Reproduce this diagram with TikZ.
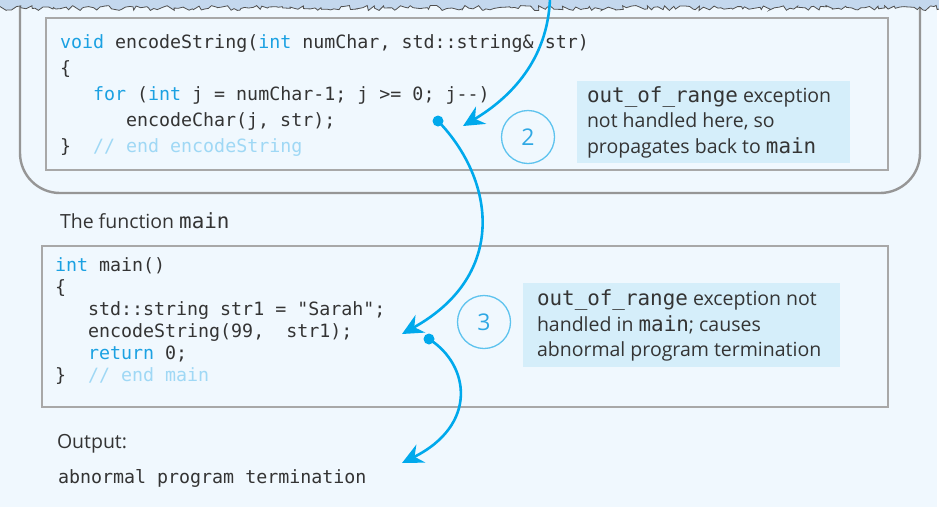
\documentclass[tikz,border=0pt]{standalone}
\usepackage{fontspec}
\setmainfont{Open Sans}
\setmonofont{DejaVu Sans Mono}
\usetikzlibrary{arrows.meta,decorations.pathmorphing}
\definecolor{cF0F8FE}{RGB}{240,248,254}
\definecolor{cC6DAEF}{RGB}{196,216,238}
\definecolor{c505050}{RGB}{80,80,80}
\definecolor{c9A9A9A}{RGB}{150,150,150}
\definecolor{cA8A8A8}{RGB}{168,168,168}
\definecolor{c383838}{RGB}{52,52,52}
\definecolor{c1BA1E2}{RGB}{27,161,226}
\definecolor{c9FD8F5}{RGB}{159,216,245}
\definecolor{c00A9EC}{RGB}{0,169,236}
\definecolor{cD5EEFA}{RGB}{213,238,250}
\definecolor{c5EC3EE}{RGB}{94,195,238}
\definecolor{c2FA8E4}{RGB}{47,168,228}
\newcommand{\kw}[1]{\textcolor{c1BA1E2}{#1}}
\newcommand{\cmt}[1]{\textcolor{c9FD8F5}{#1}}
\newcommand{\cw}[1]{{\fontsize{20.9}{24}\ttfamily #1}}

\begin{document}
\begin{tikzpicture}[y=1pt, x=1pt, yscale=-1, inner sep=0pt, outer sep=0pt,
  code/.style={anchor=base west, font=\fontsize{18.3}{22}\ttfamily, text=c383838},
  note/.style={anchor=base west, font=\fontsize{19.5}{24}\selectfont, text=c383838},
  codebox/.style={draw=cA8A8A8, line width=1.1pt},
  callout/.style={fill=cD5EEFA},
  badge/.style={circle, draw=c5EC3EE, line width=1.3pt, minimum size=53pt,
    text=c2FA8E4, font=\fontsize{23}{23}\selectfont},
  dot/.style={circle, fill=c00A9EC, minimum size=11pt},
  flow/.style={draw=c00A9EC, line width=2.6pt,
    -{Stealth[length=21pt,width=20pt,inset=7pt]}},
  torn/.style={decoration={random steps, segment length=3.5pt, amplitude=2.6pt}}]
  \useasboundingbox (0,0) rectangle (939,507);
  \fill[cF0F8FE] (0,0) rectangle (937,507);

  % outer frame and torn top edge
  \path[draw=c9A9A9A, line width=2.4pt, rounded corners=40pt]
    (20,-2) -- (20,193) -- (920,193) -- (920,-2);
  \pgfmathsetseed{4217}
  \path[fill=cC6DAEF, draw=c505050, line width=0.8pt]
    (-4,-4) -- (943,-4) -- (943,8) decorate[torn]{-- (-4,8)} -- cycle;

  % code boxes
  \path[codebox] (46,18) rectangle (888,170);
  \path[codebox] (42,246) rectangle (888,407);
  \path[callout] (577,81) rectangle (850,163);
  \path[callout] (523,283) rectangle (840,367);

  % encodeString
  \node[code] (s1) at (60,48) {\kw{void} encodeString(\kw{int} numChar, std::string\& str)};
  \node[code] (s2) at (60,74) {\{};
  \node[code] (s3) at (93,100) {\kw{for} (\kw{int} j = numChar-1; j >= 0; j-{}-)};
  \node[code] (s4) at (126,126) {encodeChar(j, str);};
  \node[code] (s5) at (60,152) {\}\ \ \cmt{// end encodeString}};

  \node[note] (c21) at (587,102) {\cw{out\_of\_range} exception};
  \node[note] (c22) at (587,127) {not handled here, so};
  \node[note] (c23) at (587,153) {propagates back to \cw{main}};

  \node[note] (title) at (60,228) {The function \cw{main}};

  % main
  \node[code] (m1) at (55,271) {\kw{int} main()};
  \node[code] (m2) at (55,293) {\{};
  \node[code] (m3) at (88,315) {std::string str1 = "Sarah";};
  \node[code] (m4) at (88,337) {encodeString(99,\ \ str1);};
  \node[code] (m5) at (88,359) {\kw{return} 0;};
  \node[code] (m6) at (55,381) {\}\ \ \cmt{// end main}};

  \node[note] (c31) at (537,305) {\cw{out\_of\_range} exception not};
  \node[note] (c32) at (537,331) {handled in \cw{main}; causes};
  \node[note] (c33) at (537,356) {abnormal program termination};

  \node[note] (out) at (57,448) {Output:};
  \node[code] (res) at (58,483) {abnormal program termination};

  % steps
  \node[badge] (n2) at (528,137) {2};
  \node[badge] (n3) at (484,322) {3};
  \node[dot] (d1) at (438,121) {};
  \node[dot] (d2) at (429,339) {};
  \coordinate (a0) at (550,-2);
  \coordinate (t1) at (463,126);
  \coordinate (t2) at (402,334);
  \coordinate (t3) at (402,463);
  \draw[flow] (a0) .. controls (548,60) and (510,98) .. (t1);
  \draw[flow] (d1.center) .. controls (495,180) and (508,275) .. (t2);
  \draw[flow] (d2.center) .. controls (470,365) and (478,425) .. (t3);
\end{tikzpicture}
\end{document}
